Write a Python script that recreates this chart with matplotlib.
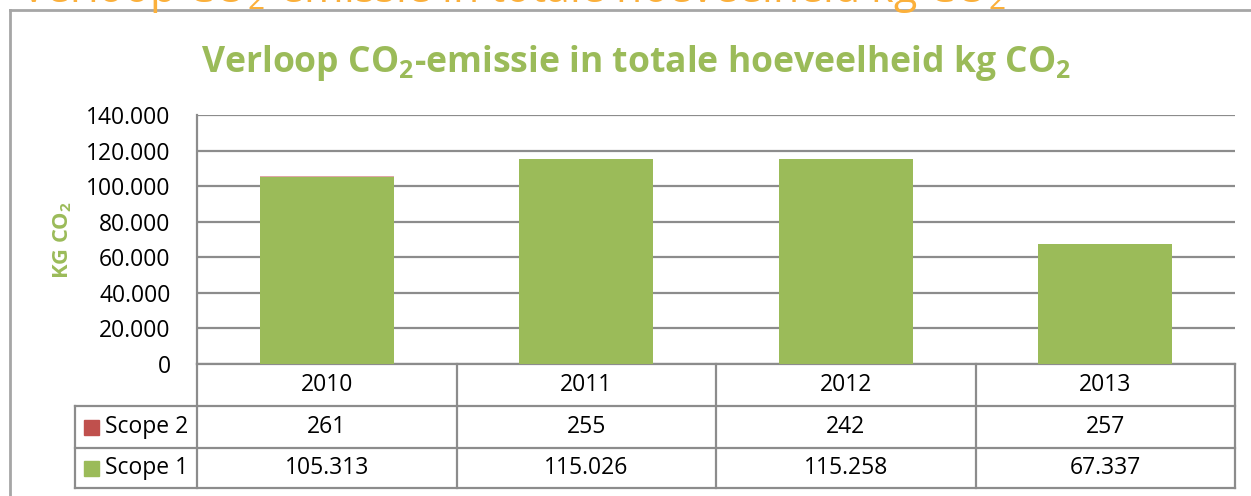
import matplotlib
matplotlib.use("Agg")
import matplotlib.pyplot as plt
from matplotlib.lines import Line2D
from matplotlib.patches import Rectangle
from matplotlib.transforms import blended_transform_factory
import numpy as np

# data
years = ["2010", "2011", "2012", "2013"]
scope1 = [105313, 115026, 115258, 67337]
scope2 = [261, 255, 242, 257]
yticks = [0, 20000, 40000, 60000, 80000, 100000, 120000, 140000]
title = "Verloop CO$_2$-emissie in totale hoeveelheid kg CO$_2$"

GREEN = "#9BBB59"
RED = "#C0504D"
ORANGE = "#FBB03B"
GRID = "#8C8C8C"
FRAME = "#A6A6A6"

plt.rcParams["font.family"] = ["Open Sans", "DejaVu Sans"]
plt.rcParams["mathtext.default"] = "regular"

W, H = 1251, 496
fig = plt.figure(figsize=(W / 100, H / 100), dpi=100)


def fx(px):
    return px / W


def fy(py):
    return 1 - py / H


def dots(v):
    return f"{v:,}".replace(",", ".")


# plot area
L, R, T, B = 197, 1235, 115, 364
ax = fig.add_axes([fx(L), fy(B), fx(R) - fx(L), fy(T) - fy(B)])
x = np.arange(len(years))
ax.bar(x, scope1, width=0.515, color=GREEN, zorder=3)
ax.bar(x, scope2, bottom=scope1, width=0.515, color=RED, alpha=0.5, zorder=3)
ax.set_xlim(-0.5, len(years) - 0.5)
ax.set_ylim(0, 140000)
ax.set_yticks(yticks)
ax.set_yticklabels([dots(v) for v in yticks])
ax.set_xticks([])
ax.tick_params(axis="y", length=0, labelsize=16.5, pad=19)
ax.grid(axis="y", color=GRID, lw=1.6, zorder=0)
for s in ["top", "right"]:
    ax.spines[s].set_visible(False)
for s in ["left", "bottom"]:
    ax.spines[s].set_color(GRID)
    ax.spines[s].set_linewidth(1.6)

# table under the axis
bt = blended_transform_factory(ax.transData, fig.transFigure)
rows = [364, 406, 448, 488]
lab_left = 75


def hline(x0, x1, y):
    fig.add_artist(Line2D([fx(x0), fx(x1)], [fy(y), fy(y)], color=GRID, lw=1.6))


def vline(xp, y0, y1):
    fig.add_artist(Line2D([fx(xp), fx(xp)], [fy(y0), fy(y1)], color=GRID, lw=1.6))


for y in rows[1:]:
    hline(lab_left, R, y)
vline(lab_left, rows[1], rows[3])
for i in range(len(years) + 1):
    xp = L + i * (R - L) / len(years)
    vline(xp, rows[0], rows[3])

fs = 16.5
for i, yr in enumerate(years):
    cy = (rows[0] + rows[1]) / 2
    ax.text(i, fy(cy), yr, transform=bt, ha="center", va="center", fontsize=fs)
    cy = (rows[1] + rows[2]) / 2
    ax.text(i, fy(cy), dots(scope2[i]), transform=bt, ha="center", va="center", fontsize=fs)
    cy = (rows[2] + rows[3]) / 2
    ax.text(i, fy(cy), dots(scope1[i]), transform=bt, ha="center", va="center", fontsize=fs)

for (name, col, r0, r1) in [("Scope 2", RED, rows[1], rows[2]), ("Scope 1", GREEN, rows[2], rows[3])]:
    cy = (r0 + r1) / 2
    fig.add_artist(Rectangle((fx(84), fy(cy + 7.5)), 15 / W, 15 / H, color=col,
                             transform=fig.transFigure))
    fig.text(fx(105), fy(cy), name, ha="left", va="center", fontsize=fs)

# outer frame
fig.add_artist(Line2D([fx(10), 1], [fy(10), fy(10)], color=FRAME, lw=2))
fig.add_artist(Line2D([fx(10), fx(10)], [fy(10), 0], color=FRAME, lw=2))

# titles
t_green = fig.text(fx(636), fy(72), title, ha="center", va="baseline",
                   color=GREEN, fontsize=26, fontweight="bold")
t_orange = fig.text(fx(20), fy(2), title, ha="left", va="baseline",
                    color=ORANGE, fontsize=30)
t_ylab = fig.text(fx(63), fy(240), "KG CO$_2$", ha="center", va="center", rotation=90,
                  color=GREEN, fontsize=13, fontweight="bold")

fig.canvas.draw()
r = fig.canvas.get_renderer()
for t, target, use_h in [(t_green, 872, False), (t_orange, 985, False), (t_ylab, 78, True)]:
    bb = t.get_window_extent(r)
    size = bb.height if use_h else bb.width
    t.set_fontsize(t.get_fontsize() * target / size)

fig.savefig("out.png", dpi=100)
